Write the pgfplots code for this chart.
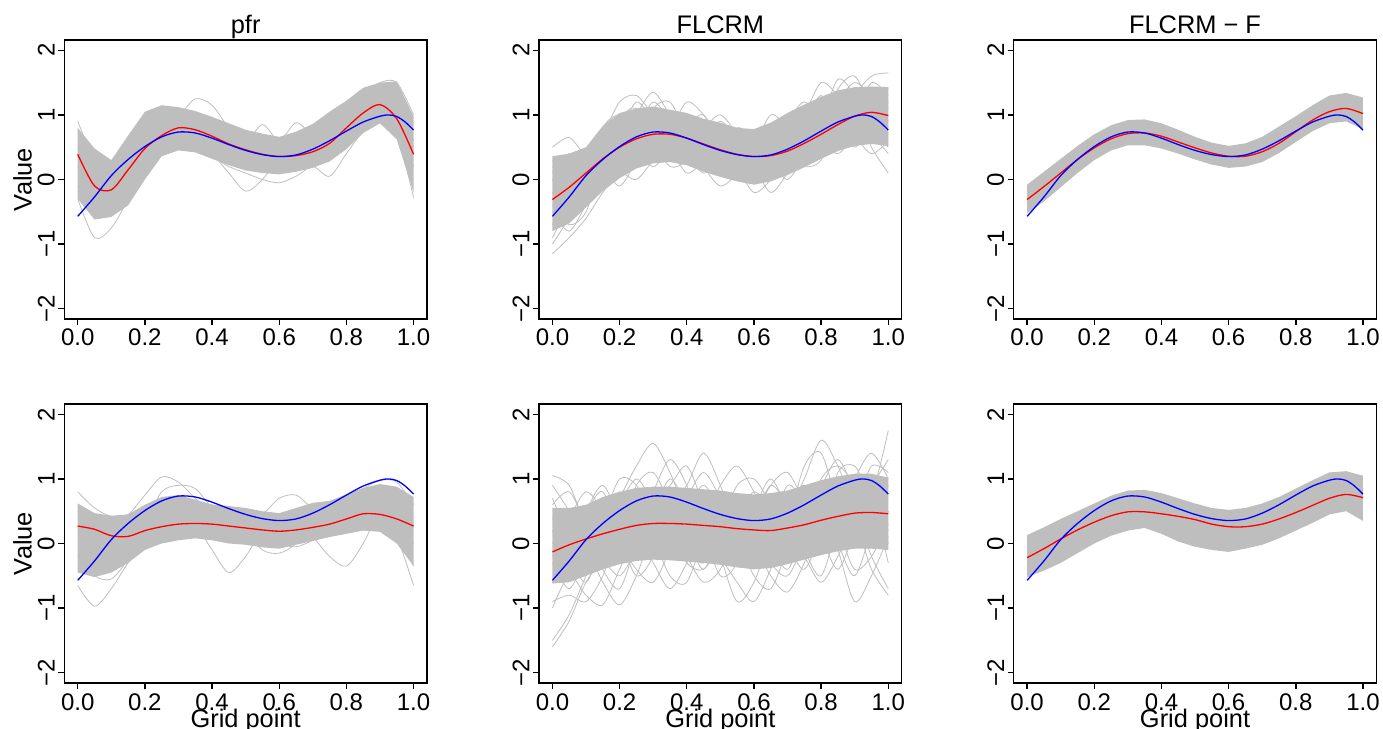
\documentclass[border=0pt]{standalone}
\usepackage{fontspec}
\setmainfont{Liberation Sans}
\usepackage{pgfplots}
\pgfplotsset{compat=1.18}
\usepackage{pgfplotstable}
\definecolor{rgray}{RGB}{190,190,190}
\newcommand\fs{\fontsize{12.7}{15}\selectfont}
\newcommand\ts{\fontsize{12}{14}\selectfont}

\pgfplotsset{panel/.style={
  scale only axis, width=181.35pt, height=139.5pt,
  xmin=-0.04, xmax=1.04, ymin=-2.16, ymax=2.16,
  clip mode=individual,
  xtick={0,0.2,0.4,0.6,0.8,1}, xticklabels={0.0,0.2,0.4,0.6,0.8,1.0},
  ytick={-2,-1,0,1,2}, yticklabels={},
  xtick pos=left, ytick pos=left,
  tick align=outside, major tick length=3pt,
  axis line style={line width=0.7pt},
  every tick/.style={black, line width=0.7pt},
  tick label style={font=\ts},
  xticklabel style={anchor=base, yshift=-10.5pt, inner sep=0pt},
  anchor=south west,
}}
\tikzset{ylab/.style={rotate=90, anchor=south, inner sep=0pt, font=\ts}}
% y tick labels, set at the left edge of the box as R does
\newcommand\ylabs{%
  \node[ylab] at ([xshift=-4.65pt]axis cs:-0.04,-2) {−2};
  \node[ylab] at ([xshift=-4.65pt]axis cs:-0.04,-1) {−1};
  \node[ylab] at ([xshift=-4.65pt]axis cs:-0.04,0) {0};
  \node[ylab] at ([xshift=-4.65pt]axis cs:-0.04,1) {1};
  \node[ylab] at ([xshift=-4.65pt]axis cs:-0.04,2) {2};}
\pgfplotsset{bandlo/.style={draw=none, stack plots=y, forget plot},
  bandhi/.style={fill=rgray, draw=none, stack plots=y, forget plot},
  gline/.style={rgray, line width=0.4pt, smooth, forget plot},
  estline/.style={red, line width=0.65pt, smooth},
  trueline/.style={blue, line width=0.65pt, smooth}}

% true function (same in every panel)
\pgfplotstableread{
x y
0 -0.57
0.05 -0.27
0.1 0.06
0.15 0.31
0.2 0.51
0.25 0.66
0.3 0.735
0.35 0.72
0.4 0.64
0.45 0.54
0.5 0.45
0.55 0.385
0.6 0.355
0.65 0.38
0.7 0.47
0.75 0.60
0.8 0.75
0.85 0.89
0.9 0.98
0.925 1.0
0.95 0.975
0.975 0.89
1.0 0.765
}\truthtab

% pfr, top
\pgfplotstableread{
x lo hi red c1 c2 c3 c4 c5
0    -0.30 0.80 0.39 -0.30 0.90 0.20 0.50 -0.10
0.05 -0.62 0.48 -0.10 -0.90 0.30 -0.20 0.10 -0.50
0.1  -0.58 0.30 -0.16 -0.75 0.00 -0.30 -0.20 -0.45
0.15 -0.40 0.68 0.15 -0.30 0.30 0.00 0.20 -0.10
0.2  0.00 1.05 0.48 0.25 0.80 0.40 0.70 0.30
0.25 0.36 1.15 0.68 0.60 1.10 0.65 0.90 0.45
0.3  0.45 1.12 0.80 0.70 1.00 0.75 0.85 0.50
0.35 0.42 1.06 0.77 0.65 1.25 0.60 0.70 0.45
0.4  0.32 0.97 0.67 0.55 1.15 0.40 0.55 0.35
0.45 0.22 0.87 0.55 0.45 0.80 0.10 0.45 0.20
0.5  0.14 0.77 0.46 0.35 0.60 -0.18 0.55 0.10
0.55 0.10 0.71 0.39 0.30 0.50 0.00 0.85 0.00
0.6  0.08 0.66 0.355 0.30 0.45 0.35 0.60 -0.05
0.65 0.12 0.74 0.37 0.35 0.50 0.50 0.88 0.05
0.7  0.18 0.86 0.43 0.45 0.60 0.40 0.70 0.20
0.75 0.28 1.05 0.56 0.60 0.75 0.35 0.80 0.05
0.8  0.47 1.22 0.80 0.80 1.00 0.60 1.10 0.40
0.85 0.72 1.42 1.03 1.00 1.30 0.90 1.35 0.75
0.9  0.87 1.50 1.16 1.10 1.50 1.10 1.45 0.95
0.95 0.62 1.52 0.94 0.90 1.50 1.00 1.30 0.70
1    -0.20 0.98 0.39 0.20 1.00 0.50 0.60 -0.28
}\tA

% FLCRM, top
\pgfplotstableread{
x lo hi red c1 c2 c3 c4 c5 c6 c7 c8 c9 c10 c11 c12
0    -0.80 0.36 -0.31 0.50 -1.15 0.00 -0.70 0.30 -0.40 -0.90 0.20 -0.50 0.10 -1.00 -0.20
0.05 -0.68 0.40 -0.12 0.65 -0.90 -0.50 -0.30 0.10 -0.70 -0.40 0.00 -0.80 0.40 -0.60 -0.50
0.1  -0.43 0.50 0.10 0.40 -0.60 -0.10 0.30 -0.30 -0.50 0.10 0.30 -0.40 0.10 -0.20 0.00
0.15 -0.18 0.83 0.32 0.70 -0.20 0.40 0.20 0.00 0.30 0.60 0.50 -0.10 0.20 0.00 0.80
0.2  0.02 1.03 0.50 1.20 0.10 0.50 -0.10 0.90 0.70 0.90 0.30 0.40 0.70 0.30 1.00
0.25 0.17 1.10 0.63 1.30 0.00 1.00 0.30 1.10 0.50 0.60 0.60 0.80 1.20 0.40 0.80
0.3  0.25 1.13 0.70 1.00 0.30 1.35 0.80 0.60 0.20 0.50 1.10 0.60 0.90 0.40 1.20
0.35 0.27 1.08 0.70 0.80 0.60 1.00 0.50 0.40 0.50 0.90 1.20 0.20 0.60 0.80 0.90
0.4  0.22 1.03 0.64 1.20 0.40 0.70 0.10 0.80 0.90 0.80 0.70 0.30 1.00 0.60 0.50
0.45 0.12 0.94 0.55 1.00 0.10 0.80 0.30 1.00 0.60 0.40 0.30 0.70 0.80 0.20 0.60
0.5  0.04 0.88 0.46 0.60 0.30 1.00 0.60 0.50 0.20 0.30 0.40 0.50 0.30 -0.10 0.90
0.55 -0.03 0.80 0.39 0.50 0.50 0.70 0.20 0.10 0.00 0.60 0.80 0.00 0.20 0.10 0.60
0.6  -0.08 0.78 0.355 0.70 0.20 0.30 -0.20 0.20 0.40 0.70 0.60 0.10 0.50 0.50 0.10
0.65 -0.03 0.88 0.37 0.50 -0.20 0.20 0.00 0.70 0.80 0.40 0.20 0.50 1.00 0.30 0.30
0.7  0.07 1.03 0.44 0.60 0.10 0.60 0.40 0.90 0.50 0.30 0.30 0.90 0.80 0.00 0.70
0.75 0.19 1.16 0.56 1.00 0.50 1.10 0.20 0.60 0.30 0.80 0.70 1.20 0.50 0.40 0.90
0.8  0.32 1.28 0.70 1.50 0.60 1.00 0.30 0.90 0.70 1.20 0.50 0.90 0.80 1.00 1.30
0.85 0.44 1.38 0.85 1.30 0.40 0.80 0.90 1.55 1.20 1.00 0.60 0.60 1.40 1.20 0.90
0.9  0.52 1.43 0.98 1.00 0.70 1.30 1.10 1.30 1.50 0.80 1.20 0.90 1.60 0.70 0.50
0.95 0.55 1.44 1.04 1.50 1.00 1.60 0.50 0.80 1.30 1.10 1.40 0.70 1.10 0.40 0.90
1    0.52 1.43 0.99 1.30 0.80 1.65 0.10 0.50 1.10 1.40 0.90 0.40 0.70 0.60 1.20
}\tB

% FLCRM - F, top
\pgfplotstableread{
x lo hi red
0    -0.52 -0.08 -0.31
0.05 -0.34 0.12 -0.11
0.1  -0.12 0.32 0.10
0.15 0.10 0.52 0.31
0.2  0.30 0.70 0.49
0.25 0.45 0.84 0.63
0.3  0.53 0.92 0.71
0.35 0.53 0.93 0.72
0.4  0.48 0.87 0.67
0.45 0.40 0.77 0.58
0.5  0.31 0.66 0.49
0.55 0.23 0.57 0.41
0.6  0.18 0.52 0.36
0.65 0.20 0.56 0.36
0.7  0.27 0.66 0.43
0.75 0.41 0.82 0.56
0.8  0.58 0.98 0.74
0.85 0.75 1.15 0.92
0.9  0.87 1.30 1.05
0.95 0.90 1.34 1.10
1    0.78 1.27 1.02
}\tC

% pfr, bottom
\pgfplotstableread{
x lo hi red c1 c2 c3 c4 c5
0    -0.45 0.62 0.27 -0.65 0.80 0.20 0.50 -0.20
0.05 -0.52 0.47 0.22 -0.97 0.55 -0.20 0.30 -0.50
0.1  -0.45 0.43 0.12 -0.70 0.42 -0.35 0.00 -0.55
0.15 -0.30 0.45 0.11 -0.30 0.45 -0.20 -0.10 -0.25
0.2  -0.10 0.60 0.20 0.00 0.75 0.15 0.30 0.10
0.25 0.00 0.72 0.26 0.15 1.03 0.40 0.80 0.20
0.3  0.05 0.75 0.30 0.20 0.95 0.50 0.90 0.25
0.35 0.08 0.68 0.31 0.20 0.70 0.30 0.85 0.45
0.4  0.05 0.60 0.30 0.15 0.50 -0.10 0.55 0.60
0.45 0.00 0.58 0.27 0.10 0.40 -0.45 0.30 0.45
0.5  -0.02 0.55 0.24 0.05 0.35 -0.20 0.20 0.30
0.55 -0.06 0.50 0.21 0.05 0.45 0.20 -0.10 0.15
0.6  -0.08 0.47 0.19 0.10 0.70 0.35 -0.15 0.00
0.65 -0.02 0.55 0.21 0.15 0.75 0.30 0.00 -0.05
0.7  0.04 0.63 0.25 0.25 0.55 0.10 0.35 0.05
0.75 0.10 0.66 0.30 0.30 0.55 -0.20 0.65 0.20
0.8  0.15 0.76 0.38 0.40 0.70 -0.35 0.65 0.55
0.85 0.20 0.86 0.46 0.50 0.85 0.00 0.60 0.80
0.9  0.18 0.92 0.45 0.45 0.98 0.50 0.70 0.85
0.95 0.00 0.88 0.38 0.10 0.95 0.60 0.40 0.55
1    -0.35 0.72 0.27 -0.65 0.60 0.30 -0.35 0.00
}\tD

% FLCRM, bottom
\pgfplotstableread{
x lo hi red c1 c2 c3 c4 c5 c6 c7 c8 c9 c10 c11 c12 c13 c14
0    -0.62 0.55 -0.13 1.05 -1.60 0.20 -0.60 0.60 -0.90 0.00 -0.30 0.90 -1.00 0.40 -0.20 -1.50 0.70
0.05 -0.60 0.55 -0.02 0.90 -1.20 -0.30 -0.10 0.80 -0.80 0.40 -0.70 0.50 -0.50 -0.20 0.30 -1.10 0.20
0.1  -0.50 0.60 0.07 0.30 -0.60 -0.10 0.50 0.30 -0.90 0.80 -0.20 0.00 -0.80 -0.60 0.20 -0.50 0.50
0.15 -0.40 0.72 0.15 0.20 -0.30 -0.60 0.90 -0.20 -0.50 0.50 0.30 0.40 -0.95 0.00 -0.40 0.10 0.80
0.2  -0.32 0.80 0.22 0.70 -0.50 -0.95 0.40 0.20 0.20 0.00 0.80 1.00 -0.40 0.60 -0.70 0.40 0.10
0.25 -0.27 0.86 0.28 1.20 -0.10 -0.50 0.00 0.90 0.60 -0.40 0.40 0.90 0.10 1.00 0.00 0.20 -0.50
0.3  -0.25 0.88 0.31 1.55 0.40 0.20 -0.20 1.10 0.10 -0.60 0.50 0.40 -0.30 0.70 0.60 0.80 -0.20
0.35 -0.26 0.88 0.31 1.10 0.20 0.60 0.30 0.60 -0.50 -0.10 1.00 0.20 -0.70 0.90 0.30 1.30 0.50
0.4  -0.28 0.86 0.30 0.50 -0.30 0.90 0.80 0.00 -0.60 0.50 0.60 0.70 -0.30 1.20 -0.20 0.90 0.10
0.45 -0.30 0.84 0.28 0.40 -0.40 1.40 0.50 -0.30 0.10 0.90 0.20 1.10 0.30 0.60 -0.60 0.20 -0.40
0.5  -0.33 0.82 0.26 0.90 0.00 0.90 -0.20 0.30 0.70 0.50 0.50 0.70 -0.20 0.10 -0.40 -0.50 0.20
0.55 -0.37 0.78 0.23 1.20 0.50 0.20 -0.90 0.90 0.50 0.00 0.10 0.20 -0.60 0.40 0.20 -0.30 0.70
0.6  -0.40 0.76 0.21 0.80 0.20 -0.30 -0.60 1.00 0.00 0.40 -0.50 0.40 -0.90 0.80 0.60 0.50 0.30
0.65 -0.38 0.78 0.20 0.30 -0.30 0.20 0.10 0.60 -0.50 0.90 -0.70 0.90 -0.40 0.50 0.00 1.00 -0.30
0.7  -0.32 0.82 0.24 0.50 -0.50 0.90 0.60 0.00 -0.75 1.10 -0.10 0.60 0.20 0.00 -0.40 0.50 0.30
0.75 -0.25 0.90 0.29 1.00 0.00 0.60 0.90 -0.40 -0.30 0.70 0.40 0.20 -0.20 0.30 0.20 -0.10 1.20
0.8  -0.18 0.98 0.36 1.60 0.50 0.00 0.50 0.20 0.40 0.90 0.10 0.70 -0.60 1.00 0.60 -0.50 1.40
0.85 -0.12 1.04 0.42 1.20 0.20 0.40 -0.10 1.10 0.80 1.30 -0.40 1.00 -0.20 1.20 0.00 0.30 0.60
0.9  -0.08 1.08 0.47 0.60 -0.40 1.00 -0.90 1.20 0.50 0.80 0.20 0.60 0.30 0.90 -0.50 1.00 0.10
0.95 -0.08 1.08 0.48 0.90 -0.20 1.40 -0.50 0.80 -0.20 0.20 0.90 1.20 -0.40 0.30 0.20 0.60 0.60
1    -0.10 1.02 0.46 1.30 0.30 1.00 0.10 1.75 -0.70 0.50 0.00 1.10 -0.80 0.50 0.90 0.20 -0.30
}\tE

% FLCRM - F, bottom
\pgfplotstableread{
x lo hi red
0    -0.52 0.13 -0.22
0.05 -0.42 0.25 -0.08
0.1  -0.30 0.38 0.07
0.15 -0.15 0.50 0.21
0.2  0.00 0.62 0.33
0.25 0.12 0.74 0.43
0.3  0.20 0.82 0.49
0.35 0.24 0.83 0.49
0.4  0.15 0.78 0.46
0.45 0.03 0.70 0.42
0.5  -0.05 0.62 0.37
0.55 -0.10 0.55 0.30
0.6  -0.13 0.52 0.26
0.65 -0.08 0.55 0.26
0.7  -0.02 0.62 0.30
0.75 0.08 0.72 0.38
0.8  0.20 0.85 0.48
0.85 0.32 0.98 0.59
0.9  0.45 1.10 0.70
0.95 0.50 1.12 0.76
1    0.35 1.05 0.71
}\tF

\begin{document}
\begin{tikzpicture}

% ---- top row ----
\begin{axis}[panel, at={(32.15pt,205pt)}]
\addplot[bandlo] table[x=x,y=lo]{\tA};
\addplot[bandhi] table[x=x,y expr=\thisrow{hi}-\thisrow{lo}]{\tA} \closedcycle;
\addplot[gline] table[x=x,y=c1]{\tA};
\addplot[gline] table[x=x,y=c2]{\tA};
\addplot[gline] table[x=x,y=c3]{\tA};
\addplot[gline] table[x=x,y=c4]{\tA};
\addplot[gline] table[x=x,y=c5]{\tA};
\addplot[estline] table[x=x,y=red]{\tA};
\addplot[trueline] table[x=x,y=y]{\truthtab};
\ylabs
\end{axis}

\begin{axis}[panel, at={(269.5pt,205pt)}]
\addplot[bandlo] table[x=x,y=lo]{\tB};
\addplot[bandhi] table[x=x,y expr=\thisrow{hi}-\thisrow{lo}]{\tB} \closedcycle;
\addplot[gline] table[x=x,y=c1]{\tB};
\addplot[gline] table[x=x,y=c2]{\tB};
\addplot[gline] table[x=x,y=c3]{\tB};
\addplot[gline] table[x=x,y=c4]{\tB};
\addplot[gline] table[x=x,y=c5]{\tB};
\addplot[gline] table[x=x,y=c6]{\tB};
\addplot[gline] table[x=x,y=c7]{\tB};
\addplot[gline] table[x=x,y=c8]{\tB};
\addplot[gline] table[x=x,y=c9]{\tB};
\addplot[gline] table[x=x,y=c10]{\tB};
\addplot[gline] table[x=x,y=c11]{\tB};
\addplot[gline] table[x=x,y=c12]{\tB};
\addplot[estline] table[x=x,y=red]{\tB};
\addplot[trueline] table[x=x,y=y]{\truthtab};
\ylabs
\end{axis}

\begin{axis}[panel, at={(506.85pt,205pt)}]
\addplot[bandlo] table[x=x,y=lo]{\tC};
\addplot[bandhi] table[x=x,y expr=\thisrow{hi}-\thisrow{lo}]{\tC} \closedcycle;
\addplot[estline] table[x=x,y=red]{\tC};
\addplot[trueline] table[x=x,y=y]{\truthtab};
\ylabs
\end{axis}

% ---- bottom row ----
\begin{axis}[panel, at={(32.15pt,23pt)}]
\addplot[bandlo] table[x=x,y=lo]{\tD};
\addplot[bandhi] table[x=x,y expr=\thisrow{hi}-\thisrow{lo}]{\tD} \closedcycle;
\addplot[gline] table[x=x,y=c1]{\tD};
\addplot[gline] table[x=x,y=c2]{\tD};
\addplot[gline] table[x=x,y=c3]{\tD};
\addplot[gline] table[x=x,y=c4]{\tD};
\addplot[gline] table[x=x,y=c5]{\tD};
\addplot[estline] table[x=x,y=red]{\tD};
\addplot[trueline] table[x=x,y=y]{\truthtab};
\ylabs
\end{axis}

\begin{axis}[panel, at={(269.5pt,23pt)}]
\addplot[bandlo] table[x=x,y=lo]{\tE};
\addplot[bandhi] table[x=x,y expr=\thisrow{hi}-\thisrow{lo}]{\tE} \closedcycle;
\addplot[gline] table[x=x,y=c1]{\tE};
\addplot[gline] table[x=x,y=c2]{\tE};
\addplot[gline] table[x=x,y=c3]{\tE};
\addplot[gline] table[x=x,y=c4]{\tE};
\addplot[gline] table[x=x,y=c5]{\tE};
\addplot[gline] table[x=x,y=c6]{\tE};
\addplot[gline] table[x=x,y=c7]{\tE};
\addplot[gline] table[x=x,y=c8]{\tE};
\addplot[gline] table[x=x,y=c9]{\tE};
\addplot[gline] table[x=x,y=c10]{\tE};
\addplot[gline] table[x=x,y=c11]{\tE};
\addplot[gline] table[x=x,y=c12]{\tE};
\addplot[gline] table[x=x,y=c13]{\tE};
\addplot[gline] table[x=x,y=c14]{\tE};
\addplot[estline] table[x=x,y=red]{\tE};
\addplot[trueline] table[x=x,y=y]{\truthtab};
\ylabs
\end{axis}

\begin{axis}[panel, at={(506.85pt,23pt)}]
\addplot[bandlo] table[x=x,y=lo]{\tF};
\addplot[bandhi] table[x=x,y expr=\thisrow{hi}-\thisrow{lo}]{\tF} \closedcycle;
\addplot[estline] table[x=x,y=red]{\tF};
\addplot[trueline] table[x=x,y=y]{\truthtab};
\ylabs
\end{axis}

% titles and axis labels
\node[font=\fs, anchor=base] at (122.825pt,347.9pt) {pfr};
\node[font=\fs, anchor=base] at (360.175pt,347.9pt) {FLCRM};
\node[font=\fs, anchor=base] at (597.525pt,347.9pt) {FLCRM − F};
\node[font=\fs, anchor=base, rotate=90] at (15.85pt,274.75pt) {Value};
\node[font=\fs, anchor=base, rotate=90] at (15.85pt,92.75pt) {Value};
\node[font=\fs, anchor=base] at (122.825pt,1pt) {Grid point};
\node[font=\fs, anchor=base] at (360.175pt,1pt) {Grid point};
\node[font=\fs, anchor=base] at (597.525pt,1pt) {Grid point};
\pgfresetboundingbox
\path[use as bounding box] (0,0) rectangle (691.5pt,364.5pt);
\end{tikzpicture}
\end{document}
